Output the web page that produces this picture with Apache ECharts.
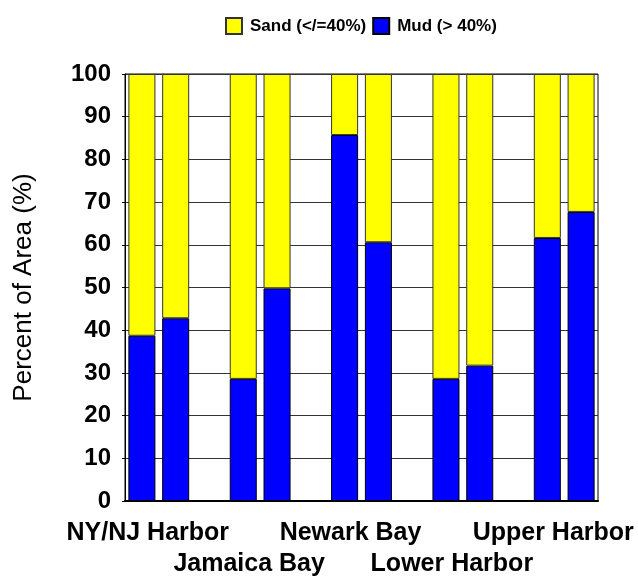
<!DOCTYPE html>
<html>
<head>
<meta charset="utf-8">
<script src="https://cdn.jsdelivr.net/npm/echarts@6/dist/echarts.min.js"></script>
<style>
  html, body { margin: 0; padding: 0; background: #fff; }
  #chart { width: 638px; height: 577px; }
</style>
</head>
<body>
<div id="chart"></div>
<script>
// Sediment survey areas, two surveys per area
const sites = ['NY/NJ Harbor', 'Jamaica Bay', 'Newark Bay', 'Lower Harbor', 'Upper Harbor'];
const mudPct = [38.7, 42.8, 28.6, 49.8, 85.7, 60.6, 28.6, 31.7, 61.6, 67.7];
const sandPct = [61.3, 57.2, 71.4, 50.2, 14.3, 39.4, 71.4, 68.3, 38.4, 32.3];
const yTicks = [0, 10, 20, 30, 40, 50, 60, 70, 80, 90, 100];

const SAND = 'Sand (</=40%)';
const MUD = 'Mud (> 40%)';

// Lay the bars out as pairs with an empty slot between neighbouring areas
const slots = [];
const mudSlots = [];
const sandSlots = [];
const siteCentres = [];
sites.forEach((site, i) => {
  if (i > 0) { slots.push('gap' + i); mudSlots.push('-'); sandSlots.push('-'); }
  siteCentres.push(slots.length + 1);
  for (let k = 0; k < 2; k++) {
    slots.push(site + ' ' + (k + 1));
    mudSlots.push(mudPct[i * 2 + k]);
    sandSlots.push(sandPct[i * 2 + k]);
  }
});

const chart = echarts.init(document.getElementById('chart'), null, { renderer: 'canvas' });
const font = 'Liberation Sans, Arial, sans-serif';

// Area names alternate between two rows under the plot
function siteAxis(row) {
  const centres = siteCentres.filter((c, i) => i % 2 === row);
  return {
    type: 'value',
    min: 0,
    max: slots.length,
    position: 'bottom',
    axisLine: { show: false },
    axisTick: { show: false },
    splitLine: { show: false },
    axisLabel: {
      customValues: centres,
      hideOverlap: false,
      showMinLabel: true,
      showMaxLabel: true,
      margin: 20 + row * 31,
      fontFamily: font,
      fontWeight: 'bold',
      fontSize: 25,
      color: '#000',
      verticalAlign: 'top',
      padding: [0, 22, 0, 0],
      formatter: function (v) {
        const i = siteCentres.indexOf(v);
        return i < 0 ? '' : sites[i];
      }
    }
  };
}

chart.setOption({
  animation: false,
  backgroundColor: '#fff',
  legend: {
    data: [SAND, MUD],
    left: 220,
    top: 12,
    itemWidth: 16,
    itemHeight: 16,
    itemGap: 6,
    icon: 'rect',
    textStyle: { fontFamily: font, fontWeight: 'bold', fontSize: 17, color: '#000', padding: [0, 0, 0, 3] }
  },
  grid: {
    left: 125, right: 40, top: 74, bottom: 76,
    outerBoundsMode: 'none',
    containLabel: false,
    show: true, borderColor: '#000', borderWidth: 1, backgroundColor: 'transparent'
  },
  xAxis: [
    {
      type: 'category',
      data: slots,
      axisLine: { lineStyle: { color: '#000', width: 2 } },
      axisTick: { show: false },
      axisLabel: { show: false },
      splitLine: { show: false }
    },
    siteAxis(0),
    siteAxis(1)
  ],
  yAxis: {
    type: 'value',
    min: yTicks[0],
    max: yTicks[yTicks.length - 1],
    interval: 10,
    name: 'Percent of Area (%)',
    nameLocation: 'middle',
    nameRotate: 90,
    nameGap: 88,
    nameTextStyle: { fontFamily: font, fontSize: 26, color: '#000' },
    axisLine: { show: true, lineStyle: { color: '#000', width: 1 } },
    axisTick: { show: true, length: 3, lineStyle: { color: '#000' } },
    axisLabel: { fontFamily: font, fontWeight: 'bold', fontSize: 24, color: '#000', margin: 14 },
    splitLine: { show: true, lineStyle: { color: '#333', width: 1 } }
  },
  series: [
    {
      name: MUD,
      type: 'bar',
      stack: 'area',
      data: mudSlots,
      barWidth: '80%',
      itemStyle: { color: '#0000FF', borderColor: '#000', borderWidth: 1 }
    },
    {
      name: SAND,
      type: 'bar',
      stack: 'area',
      data: sandSlots,
      barWidth: '80%',
      itemStyle: { color: '#FFFF00', borderColor: '#333', borderWidth: 1 }
    }
  ]
});
</script>
</body>
</html>
